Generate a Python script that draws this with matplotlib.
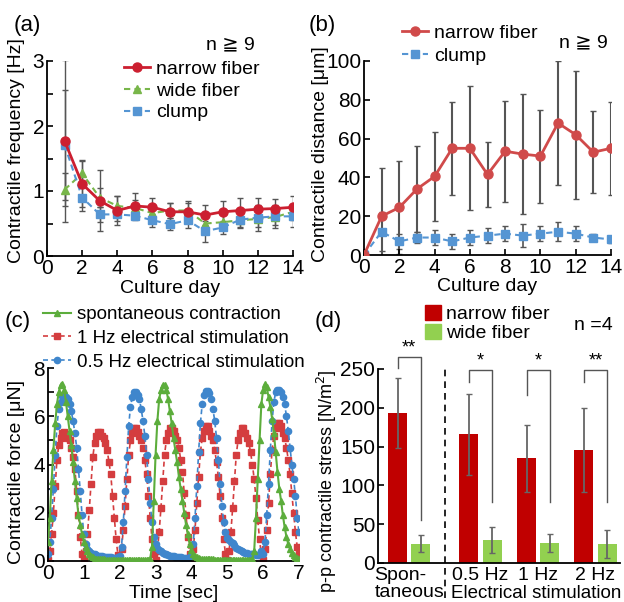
import numpy as np
import matplotlib.pyplot as plt
from matplotlib.patches import Patch

plt.rcParams['font.family'] = ['Liberation Sans', 'DejaVu Sans']
plt.rcParams['font.size'] = 14

W, H = 624, 602

# ---------------- data ----------------
# (a) contractile frequency [Hz]
days_a = [1, 2, 3, 4, 5, 6, 7, 8, 9, 10, 11, 12, 13, 14]
freq_narrow = [1.77, 1.11, 0.85, 0.70, 0.77, 0.75, 0.68, 0.68, 0.63, 0.68, 0.70, 0.72, 0.73, 0.75]
freq_narrow_err = [1.25, 0.35, 0.47, 0.22, 0.20, 0.15, 0.14, 0.16, 0.15, 0.17, 0.19, 0.18, 0.15, 0.17]
freq_wide = [1.02, 1.27, 0.90, 0.77, 0.74, 0.66, 0.70, 0.70, 0.50, 0.52, 0.55, 0.57, 0.60, 0.68]
freq_wide_err = [0.25, 0.20, 0.15, 0.15, 0.12, 0.12, 0.12, 0.12, 0.12, 0.12, 0.12, 0.12, 0.12, 0.12]
freq_clump = [1.71, 0.90, 0.64, 0.64, 0.62, 0.55, 0.49, 0.55, 0.38, 0.44, 0.56, 0.59, 0.61, 0.61]
freq_clump_err = [0.85, 0.20, 0.12, 0.10, 0.07, 0.10, 0.09, 0.12, 0.16, 0.10, 0.12, 0.20, 0.18, 0.16]

# (b) contractile distance [um]
days_b = [0, 1, 2, 3, 4, 5, 6, 7, 8, 9, 10, 11, 12, 13, 14]
dist_narrow = [0, 20, 24.5, 34, 40.5, 55, 55, 41.5, 53.5, 52, 51, 68, 62, 53, 55]
dist_narrow_err = [0, 25, 24, 22, 23, 24, 32, 17, 26, 31, 24, 32, 33, 21, 24]
dist_clump = [0, 12, 7, 9, 9, 7, 9, 10, 11, 10, 11, 12, 11, 9, 8]
dist_clump_err = [0, 10, 4, 3, 4, 4, 4, 4, 4, 6, 4, 5, 4, 2, 2]

# (c) contractile force [uN], sampled every 0.05 s
time_s = np.round(np.arange(141) * 0.05, 2)
force_spont = [
    0.8, 1.8, 3.3, 4.6, 5.7, 6.5, 7.0, 7.3, 7.35, 7.1, 6.6, 6.0, 5.4, 4.8, 4.1, 3.3, 2.6, 1.9, 1.5, 1.1,
    0.8, 0.6, 0.4, 0.3, 0.2, 0.15, 0.1,
    0.1, 0.08, 0.08, 0.07, 0.07, 0.06, 0.06, 0.06, 0.05, 0.05, 0.05, 0.05, 0.05, 0.05, 0.05, 0.05,
    0.05, 0.05, 0.05, 0.05, 0.05, 0.05, 0.05, 0.05, 0.05, 0.05, 0.05, 0.05, 0.05, 0.06, 0.1,
    0.6, 2.5, 4.4, 5.8, 6.7, 7.1, 7.3, 7.3, 7.1, 6.7, 6.2, 5.7, 5.1, 4.6, 4.1, 3.5, 3.0, 2.5, 2.0, 1.5,
    1.1, 0.7, 0.45, 0.3, 0.2,
    0.15, 0.12, 0.1, 0.1, 0.08, 0.08, 0.08, 0.07, 0.07, 0.07, 0.06, 0.06, 0.06, 0.06, 0.05, 0.05,
    0.05, 0.05, 0.05, 0.05, 0.05, 0.05, 0.05, 0.05, 0.05, 0.05, 0.05, 0.05, 0.05, 0.05, 0.06, 0.08,
    0.4, 1.8, 3.4, 5.0, 6.5, 7.1, 7.35, 7.2, 6.8, 6.4, 5.9, 5.3, 4.5, 3.7, 3.0, 2.5, 1.9, 1.4, 1.0, 0.7,
    0.5, 0.35, 0.25, 0.18, 0.12, 0.1]
force_1hz = [
    0.05, 0.4, 1.1, 2.0, 3.1, 4.2, 4.8, 5.1, 5.3, 5.35, 5.25, 5.1, 5.0, 4.7, 4.3, 3.8, 2.9, 1.9, 1.0, 0.3,
    0.05, 0.4, 1.1, 2.1, 3.2, 4.3, 4.9, 5.2, 5.35, 5.35, 5.2, 5.1, 4.9, 4.6, 4.1, 3.6, 2.7, 1.8, 0.9, 0.25,
    0.05, 0.5, 1.3, 2.3, 3.4, 4.4, 5.0, 5.3, 5.5, 5.5, 5.35, 5.2, 5.0, 4.7, 4.2, 3.6, 2.7, 1.8, 0.9, 0.3,
    0.05, 0.4, 1.2, 2.2, 3.3, 4.4, 5.0, 5.3, 5.5, 5.5, 5.4, 5.2, 5.0, 4.7, 4.2, 3.7, 2.8, 1.9, 1.0, 0.3,
    0.05, 0.5, 1.3, 2.4, 3.5, 4.5, 5.1, 5.4, 5.6, 5.6, 5.4, 5.2, 5.0, 4.6, 4.1, 3.5, 2.7, 1.8, 0.9, 0.3,
    0.05, 0.4, 1.2, 2.2, 3.3, 4.4, 5.0, 5.3, 5.5, 5.5, 5.3, 5.1, 4.9, 4.5, 4.0, 3.4, 2.6, 1.7, 0.9, 0.25,
    0.05, 0.5, 1.3, 2.4, 3.6, 4.6, 5.2, 5.5, 5.7, 5.7, 5.6, 5.3, 5.1, 4.7, 4.2, 3.6, 2.8, 2.0, 1.2, 0.6,
    0.3]
force_05hz = [
    0.3, 0.8, 1.8, 3.0, 4.4, 5.6, 6.3, 6.6, 6.85, 6.9, 6.8, 6.7, 6.5, 6.2, 5.8, 5.3, 4.7, 3.8, 2.9, 1.9,
    1.1, 0.7, 0.5, 0.4, 0.35, 0.3, 0.28, 0.25, 0.22, 0.2, 0.2, 0.18, 0.17, 0.16, 0.15, 0.15, 0.14, 0.13, 0.12, 0.15,
    0.2, 0.6, 1.6, 2.9, 4.3, 5.6, 6.4, 6.8, 7.0, 7.0, 6.9, 6.7, 6.3, 5.8, 5.2, 4.4, 3.4, 2.4, 1.6, 1.0,
    0.7, 0.55, 0.45, 0.4, 0.35, 0.3, 0.28, 0.25, 0.22, 0.2, 0.2, 0.18, 0.17, 0.16, 0.15, 0.14, 0.13, 0.12, 0.12, 0.15,
    0.2, 0.7, 1.8, 3.1, 4.5, 5.7, 6.5, 6.9, 7.05, 7.05, 6.95, 6.7, 6.3, 5.8, 5.1, 4.2, 3.2, 2.3, 1.6, 1.2,
    0.95, 0.85, 0.8, 0.75, 0.65, 0.55, 0.5, 0.45, 0.4, 0.38, 0.35, 0.33, 0.3, 0.3, 0.28, 0.27, 0.26, 0.25, 0.3, 0.4,
    0.3, 0.8, 1.9, 3.2, 4.6, 5.8, 6.6, 7.0, 7.1, 7.1, 7.0, 6.8, 6.5, 6.0, 5.4, 4.7, 4.0, 3.4, 2.7, 1.8,
    1.2]

# (d) p-p contractile stress [N/m2]
conditions = ['Spon-\ntaneous', '0.5 Hz', '1 Hz', '2 Hz']
stress_narrow = [193, 166, 135, 146]
stress_narrow_err = [45, 52, 43, 54]
stress_wide = [25, 30, 26, 25]
stress_wide_err = [11, 17, 12, 18]
signif = ['**', '*', '*', '**']

# ---------------- style ----------------
RED = '#cc1f30'
GREEN = '#78b64a'
BLUE = '#5595d3'
RED_C = '#d43d3f'
GREEN_C = '#5cad3c'
BLUE_C = '#3f86cc'
BAR_RED = '#c00000'
BAR_GREEN = '#92d050'
ERR = '#555555'

fig = plt.figure(figsize=(W / 100, H / 100), dpi=100)


def px_axes(x0, y0, x1, y1):
    return fig.add_axes([x0 / W, 1 - y1 / H, (x1 - x0) / W, (y1 - y0) / H])


def style(ax):
    for s in ['top', 'right']:
        ax.spines[s].set_visible(False)
    for s in ['left', 'bottom']:
        ax.spines[s].set_linewidth(1.3)
    ax.tick_params(direction='in', length=4, width=1.2, labelsize=15, pad=2)


def ftext(px, py, s, **kw):
    fig.text(px / W, 1 - py / H, s, **kw)


# ---------------- (a) ----------------
ax = px_axes(47, 61, 293, 256)
style(ax)
for y, e in [(freq_wide, freq_wide_err), (freq_clump, freq_clump_err), (freq_narrow, freq_narrow_err)]:
    ax.errorbar(days_a, y, yerr=e, fmt='none', ecolor=ERR, elinewidth=1, capsize=2.5, zorder=1)
ax.plot(days_a, freq_wide, '--', color=GREEN, marker='^', ms=6, lw=1.5, dashes=(3, 2), label='wide fiber', zorder=2)
ax.plot(days_a, freq_clump, '--', color=BLUE, marker='s', ms=6, lw=1.5, dashes=(3, 2), label='clump', zorder=3)
ax.plot(days_a, freq_narrow, '-', color=RED, marker='o', ms=6.5, lw=2, label='narrow fiber', zorder=4)
ax.set_xlim(0, 14)
ax.set_ylim(0, 3)
ax.set_xticks(range(0, 15, 2))
ax.set_yticks(np.arange(0, 3.01, 0.5))
ax.set_yticklabels(['0', '', '1', '', '2', '', '3'])
ax.set_xlabel('Culture day', fontsize=14)
ax.xaxis.set_label_coords(0.5, -0.125)
ax.set_ylabel('Contractile frequency [Hz]', fontsize=14)
ax.yaxis.set_label_coords(-0.09, 0.54)
h, l = ax.get_legend_handles_labels()
order = [2, 0, 1]
ax.legend([h[i] for i in order], [l[i] for i in order], loc='upper left',
          bbox_to_anchor=(124 / W, 1 - 60 / H), bbox_transform=fig.transFigure,
          frameon=False, borderpad=0, borderaxespad=0, handlelength=1.35,
          handletextpad=0.3, labelspacing=0.22, fontsize=14, numpoints=1)
ftext(230, 45, 'n ≧ 9', ha='center', va='center', fontsize=14)
ftext(27, 25, '(a)', ha='center', va='center', fontsize=16)

# ---------------- (b) ----------------
ax = px_axes(364, 61, 611, 255)
style(ax)
ax.errorbar(days_b, dist_narrow, yerr=dist_narrow_err, fmt='none', ecolor=ERR, elinewidth=1.5, capsize=2.5, zorder=1)
ax.errorbar(days_b, dist_clump, yerr=dist_clump_err, fmt='none', ecolor=ERR, elinewidth=1.2, capsize=2.5, zorder=1)
ax.plot(days_b, dist_clump, '--', color=BLUE, marker='s', ms=6, lw=1.5, dashes=(3, 2), label='clump', zorder=2)
ax.plot(days_b, dist_narrow, '-', color='#d04a4a', marker='o', ms=6.5, lw=2, label='narrow fiber', zorder=3)
ax.set_xlim(0, 14)
ax.set_ylim(0, 100)
ax.set_xticks(range(0, 15, 2))
ax.set_yticks(range(0, 101, 20))
ax.set_xlabel('Culture day', fontsize=14)
ax.xaxis.set_label_coords(0.5, -0.12)
ax.set_ylabel('Contractile distance [μm]', fontsize=14)
ax.yaxis.set_label_coords(-0.14, 0.52)
h, l = ax.get_legend_handles_labels()
ax.legend(h[::-1], l[::-1], loc='upper left',
          bbox_to_anchor=(402 / W, 1 - 24 / H), bbox_transform=fig.transFigure,
          frameon=False, borderpad=0, borderaxespad=0, handlelength=1.35,
          handletextpad=0.3, labelspacing=0.3, fontsize=14, numpoints=1)
ftext(583, 43, 'n ≧ 9', ha='center', va='center', fontsize=14)
ftext(322, 25, '(b)', ha='center', va='center', fontsize=16)

# ---------------- (c) ----------------
ax = px_axes(48, 368, 299, 561)
style(ax)
ax.plot(time_s, force_spont, '-', color=GREEN_C, marker='^', ms=4.5, lw=1.5,
        label='spontaneous contraction', zorder=3)
ax.plot(time_s, force_1hz, '--', color=RED_C, marker='s', ms=4.5, lw=1.2, dashes=(3, 2),
        label='1 Hz electrical stimulation', zorder=2)
ax.plot(time_s, force_05hz, '--', color=BLUE_C, marker='o', ms=4.5, lw=1.2, dashes=(3, 2),
        label='0.5 Hz electrical stimulation', zorder=2)
ax.set_xlim(0, 7)
ax.set_ylim(0, 8)
ax.set_xticks(range(0, 8))
ax.set_yticks(range(0, 9))
ax.set_yticklabels(['0', '', '2', '', '4', '', '6', '', '8'])
ax.set_xlabel('Time [sec]', fontsize=14)
ax.xaxis.set_label_coords(0.5, -0.125)
ax.set_ylabel('Contractile force [μN]', fontsize=14)
ax.yaxis.set_label_coords(-0.092, 0.46)
ax.legend(loc='upper left', bbox_to_anchor=(43 / W, 1 - 306 / H), bbox_transform=fig.transFigure,
          frameon=False, borderpad=0, borderaxespad=0, handlelength=1.5,
          handletextpad=0.3, labelspacing=0.36, fontsize=13.5, numpoints=1)
ftext(18, 322, '(c)', ha='center', va='center', fontsize=16)

# ---------------- (d) ----------------
ax = px_axes(378, 369, 620, 563)
style(ax)
group_pos = np.array([1.64, 5.38, 8.41, 11.41])
off, bw = 0.61, 1.0
ax.bar(group_pos - off, stress_narrow, bw, color=BAR_RED, label='narrow fiber', zorder=2)
ax.bar(group_pos + off, stress_wide, bw, color=BAR_GREEN, label='wide fiber', zorder=2)
ax.errorbar(group_pos - off, stress_narrow, yerr=stress_narrow_err, fmt='none', ecolor='#666666',
            elinewidth=1.3, capsize=2.5, zorder=3)
ax.errorbar(group_pos + off, stress_wide, yerr=stress_wide_err, fmt='none', ecolor='#666666',
            elinewidth=1.3, capsize=2.5, zorder=3)
br_top = [265, 249, 249, 249]
br_left = [251, 233, 216, 233]
br_right = [55, 79, 79, 79]
for i, s in enumerate(signif):
    x1, x2 = group_pos[i] - off, group_pos[i] + off
    ax.plot([x1, x1, x2, x2], [br_left[i], br_top[i], br_top[i], br_right[i]],
            color='#555555', lw=1, clip_on=False, zorder=4)
    ax.text((x1 + x2) / 2, br_top[i] + 1, s, ha='center', va='bottom', fontsize=13, clip_on=False)
ax.plot([3.52, 3.52], [-0.18, 1.0], '--', color='black', lw=1.2, dashes=(4, 3),
        transform=ax.get_xaxis_transform(), clip_on=False)
ax.set_xlim(0, 12.7)
ax.set_ylim(0, 250)
ax.set_yticks(range(0, 251, 50))
ax.set_xticks(group_pos)
ax.set_xticklabels(conditions, fontsize=14, linespacing=0.95)
ax.get_xticklabels()[0].set_multialignment('left')
ax.tick_params(axis='x', length=0, pad=3)
ax.set_ylabel('p-p contractile stress [N/m$^2$]', fontsize=13)
ax.yaxis.set_label_coords(-0.16, 0.42)
ax.legend(handles=[Patch(color=BAR_RED, label='narrow fiber'), Patch(color=BAR_GREEN, label='wide fiber')],
          loc='upper left', bbox_to_anchor=(425 / W, 1 - 305 / H), bbox_transform=fig.transFigure,
          frameon=False, borderpad=0, borderaxespad=0, handlelength=0.8, handleheight=0.8,
          handletextpad=0.3, labelspacing=0.05, fontsize=14)
ftext(536, 594, 'Electrical stimulation', ha='center', va='center', fontsize=13.5)
ftext(593, 325, 'n =4', ha='center', va='center', fontsize=14)
ftext(328, 322, '(d)', ha='center', va='center', fontsize=16)

fig.savefig('out.png', dpi=100)
